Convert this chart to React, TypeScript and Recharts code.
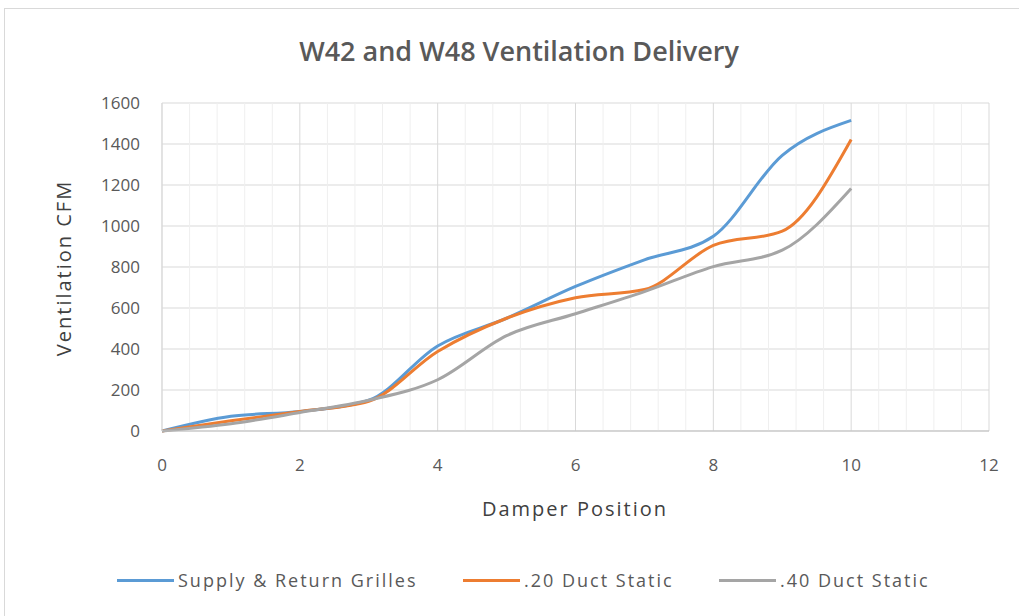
import { LineChart, Line, XAxis, YAxis, CartesianGrid, ReferenceLine } from 'recharts';

const damperPosition = [0, 1, 2, 3, 4, 5, 6, 7, 8, 9, 10];
const supplyReturn = [0, 72, 95, 150, 415, 550, 705, 835, 950, 1345, 1515];
const duct20 = [0, 50, 95, 145, 388, 550, 650, 690, 905, 975, 1422];
const duct40 = [0, 35, 90, 150, 250, 465, 572, 680, 802, 882, 1183];

const xTicks = [0, 2, 4, 6, 8, 10, 12];
const xMinorTicks = [0.4, 0.8, 1.2, 1.6, 2.4, 2.8, 3.2, 3.6, 4.4, 4.8, 5.2, 5.6, 6.4, 6.8, 7.2, 7.6, 8.4, 8.8, 9.2, 9.6, 10.4, 10.8, 11.2, 11.6];
const yTicks = [0, 200, 400, 600, 800, 1000, 1200, 1400, 1600];

const series = [
  { key: 'supply', name: 'Supply & Return Grilles', color: '#5B9BD5', values: supplyReturn },
  { key: 'd20', name: '.20 Duct Static', color: '#ED7D31', values: duct20 },
  { key: 'd40', name: '.40 Duct Static', color: '#A5A5A5', values: duct40 },
];

const data = damperPosition.map((x, i) => {
  const row: Record<string, number> = { x };
  series.forEach(s => { row[s.key] = s.values[i]; });
  return row;
});

const font = '"Open Sans", "Noto Sans", sans-serif';
const tickStyle = { fill: '#595959', fontSize: 17, fontFamily: font };

export default function App() {
  return (
    <div style={{ position: 'absolute', left: 0, top: 0, width: 1019, height: 616, background: '#fff', fontFamily: font, overflow: 'hidden' }}>
      <div style={{ position: 'absolute', left: 4, top: 8, width: 1020, height: 620, border: '1px solid #d9d9d9', boxSizing: 'border-box' }} />
      <div style={{ position: 'absolute', left: 519, top: 50, transform: 'translate(-50%, -50%)', whiteSpace: 'nowrap', fontSize: 27, fontWeight: 600, color: '#595959' }}>
        W42 and W48 Ventilation Delivery
      </div>
      <div style={{ position: 'absolute', left: 63, top: 268, transform: 'translate(-50%, -50%) rotate(-90deg)', whiteSpace: 'nowrap', fontSize: 20, letterSpacing: 2, color: '#404040' }}>
        Ventilation CFM
      </div>
      <div style={{ position: 'absolute', left: 575, top: 508, transform: 'translate(-50%, -50%)', whiteSpace: 'nowrap', fontSize: 20, letterSpacing: 2, color: '#404040' }}>
        Damper Position
      </div>
      <div style={{ position: 'absolute', left: 0, top: 0 }}>
        <LineChart width={1019} height={616} data={data} margin={{ top: 103, right: 30, bottom: 145, left: 100 }}>
          {xMinorTicks.map(v => (
            <ReferenceLine key={v} x={v} stroke="#efefef" strokeWidth={1} />
          ))}
          <CartesianGrid stroke="#d9d9d9" />
          <XAxis
            dataKey="x"
            type="number"
            domain={[0, 12]}
            ticks={xTicks}
            height={40}
            tickLine={false}
            tickSize={6}
            tickMargin={22}
            axisLine={{ stroke: '#bfbfbf' }}
            tick={tickStyle}
          />
          <YAxis
            type="number"
            domain={[0, 1600]}
            ticks={yTicks}
            width={62}
            tickLine={false}
            tickSize={6}
            tickMargin={16}
            axisLine={{ stroke: '#d9d9d9' }}
            tick={tickStyle}
          />
          {series.map(s => (
            <Line
              key={s.key}
              dataKey={s.key}
              name={s.name}
              type="monotone"
              stroke={s.color}
              strokeWidth={3}
              dot={false}
              isAnimationActive={false}
            />
          ))}
        </LineChart>
      </div>
      <div style={{ position: 'absolute', left: 0, top: 568, width: 1019, height: 24 }}>
        {series.map((s, i) => (
          <div key={s.key} style={{ position: 'absolute', left: [117, 463, 719][i], top: 0, display: 'flex', alignItems: 'center', height: 24, whiteSpace: 'nowrap' }}>
            <span style={{ display: 'inline-block', width: 57, height: 3, background: s.color, marginRight: 4 }} />
            <span style={{ fontSize: 18, letterSpacing: 2, color: '#595959' }}>{s.name}</span>
          </div>
        ))}
      </div>
    </div>
  );
}
